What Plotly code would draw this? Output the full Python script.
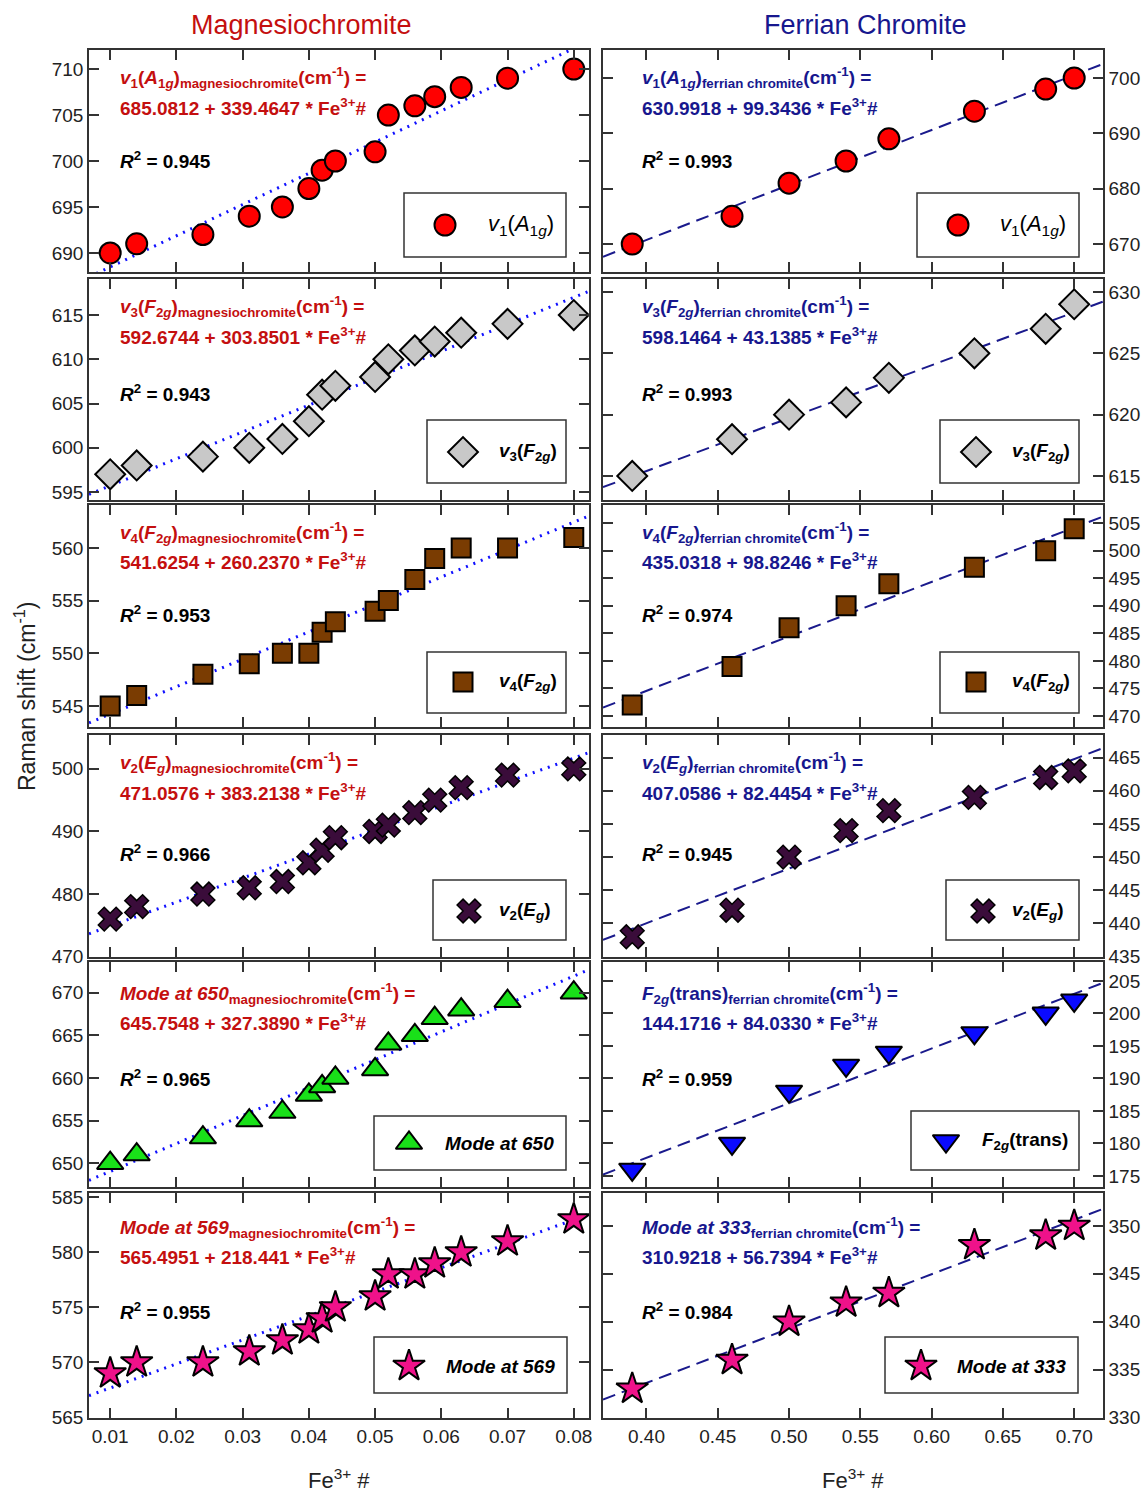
import plotly.graph_objects as go

# ---------------- data ----------------
fe_mc = [0.010, 0.014, 0.024, 0.031, 0.036, 0.040, 0.042, 0.044,
         0.050, 0.052, 0.056, 0.059, 0.063, 0.070, 0.080]
fe_fc = [0.39, 0.46, 0.50, 0.54, 0.57, 0.63, 0.68, 0.70]

v1_mc = [690, 691, 692, 694, 695, 697, 699, 700, 701, 705, 706, 707, 708, 709, 710]
v3_mc = [597, 598, 599, 600, 601, 603, 606, 607, 608, 610, 611, 612, 613, 614, 615]
v4_mc = [545, 546, 548, 549, 550, 550, 552, 553, 554, 555, 557, 559, 560, 560, 561]
v2_mc = [476, 478, 480, 481, 482, 485, 487, 489, 490, 491, 493, 495, 497, 499, 500]
m650_mc = [650, 651, 653, 655, 656, 658, 659, 660, 661, 664, 665, 667, 668, 669, 670]
m569_mc = [569, 570, 570, 571, 572, 573, 574, 575, 576, 578, 578, 579, 580, 581, 583]

v1_fc = [670, 675, 681, 685, 689, 694, 698, 700]
v3_fc = [615, 618, 620, 621, 623, 625, 627, 629]
v4_fc = [472, 479, 486, 490, 494, 497, 500, 504]
v2_fc = [438, 442, 450, 454, 457, 459, 462, 463]
f2g_fc = [176, 180, 188, 192, 194, 197, 200, 202]
m333_fc = [333, 336, 340, 342, 343, 348, 349, 350]

# linear fits: (intercept, slope, R^2)
fit_mc = [(685.0812, 339.4647, 0.945), (592.6744, 303.8501, 0.943),
          (541.6254, 260.2370, 0.953), (471.0576, 383.2138, 0.966),
          (645.7548, 327.3890, 0.965), (565.4951, 218.441, 0.955)]
fit_fc = [(630.9918, 99.3436, 0.993), (598.1464, 43.1385, 0.993),
          (435.0318, 98.8246, 0.974), (407.0586, 82.4454, 0.945),
          (144.1716, 84.0330, 0.959), (310.9218, 56.7394, 0.984)]

coef_txt_mc = ["685.0812 + 339.4647", "592.6744 + 303.8501", "541.6254 + 260.2370",
               "471.0576 + 383.2138", "645.7548 + 327.3890", "565.4951 + 218.441"]
coef_txt_fc = ["630.9918 + 99.3436", "598.1464 + 43.1385", "435.0318 + 98.8246",
               "407.0586 + 82.4454", "144.1716 + 84.0330", "310.9218 + 56.7394"]

mode_mc = ["<i>v</i><sub>1</sub>(<i>A</i><sub>1<i>g</i></sub>)",
           "<i>v</i><sub>3</sub>(<i>F</i><sub>2<i>g</i></sub>)",
           "<i>v</i><sub>4</sub>(<i>F</i><sub>2<i>g</i></sub>)",
           "<i>v</i><sub>2</sub>(<i>E</i><sub><i>g</i></sub>)",
           "<i>Mode at 650</i>",
           "<i>Mode at 569</i>"]
mode_fc = ["<i>v</i><sub>1</sub>(<i>A</i><sub>1<i>g</i></sub>)",
           "<i>v</i><sub>3</sub>(<i>F</i><sub>2<i>g</i></sub>)",
           "<i>v</i><sub>4</sub>(<i>F</i><sub>2<i>g</i></sub>)",
           "<i>v</i><sub>2</sub>(<i>E</i><sub><i>g</i></sub>)",
           "<i>F</i><sub>2<i>g</i></sub>(trans)",
           "<i>Mode at 333</i>"]

# ---------------- styling / layout constants ----------------
W, H = 1146, 1492
PL, PR, PT, PB = 89, 1103, 50, 1418          # plotting area in pixels
COLS = [(89, 589), (603, 1103)]
ROWS = [(50, 272), (279, 500), (505, 727), (735, 957), (962, 1187), (1193, 1418)]

XR = [(0.0068, 0.0823), (0.3695, 0.7202)]
YR = [[(687.93, 712.07), (664.94, 705.06)],
      [(594.10, 619.07), (613.04, 631.06)],
      [(543.00, 564.08), (468.00, 508.30)],
      [(469.95, 505.40), (434.95, 468.40)],
      [(647.20, 673.60), (173.30, 207.90)],
      [(564.95, 585.40), (329.95, 353.44)]]
YDT = [[5, 10], [5, 5], [5, 5], [10, 5], [5, 5], [5, 5]]

RED = "#c40f0f"
NAVY = "#17178e"
AX = "#333333"
FONT = "Arial, Liberation Sans, sans-serif"

MARKERS = [dict(symbol="circle", color="#ff0000", size=21),
           dict(symbol="diamond", color="#c8c8c8", size=23),
           dict(symbol="square", color="#7a3c02", size=19),
           dict(symbol="x", color="#3a0c3a", size=21),
           dict(symbol="triangle-up", color="#19e019", size=23),
           dict(symbol="triangle-down", color="#0a0aff", size=23),
           dict(symbol="star", color="#ef128a", size=24)]
MK_MC = [0, 1, 2, 3, 4, 6]
MK_FC = [0, 1, 2, 3, 5, 6]

# legend box (x0, y0, x1, y1), symbol centre, label start (pixels)
LEG = [[((404, 193, 566, 257), (445, 225), 486), ((917, 193, 1079, 257), (958, 225), 998)],
       [((427, 420, 566, 483), (463, 452), 497), ((940, 420, 1079, 483), (976, 452), 1010)],
       [((427, 652, 566, 713), (463, 682), 497), ((940, 652, 1079, 713), (976, 682), 1010)],
       [((433, 880, 566, 940), (469, 911), 497), ((946, 880, 1079, 940), (983, 911), 1010)],
       [((374, 1116, 566, 1170), (409, 1143), 443), ((911, 1111, 1079, 1170), (946, 1141), 980)],
       [((374, 1337, 567, 1393), (409, 1366), 444), ((885, 1337, 1078, 1393), (921, 1366), 955)]]

TXT_ROWS = [(77, 107, 160), (306, 336, 393), (532, 561, 614),
            (763, 792, 853), (993, 1022, 1078), (1227, 1256, 1311)]
TXT_X = [118, 640]


def px(x):
    return (x - PL) / (PR - PL)


def py(y):
    return (PB - y) / (PB - PT)


def to_data_x(c, xp):
    a, b = COLS[c]
    r0, r1 = XR[c]
    return r0 + (xp - a) / (b - a) * (r1 - r0)


def to_data_y(r, c, yp):
    top, bot = ROWS[r]
    r0, r1 = YR[r][c]
    return r0 + (bot - yp) / (bot - top) * (r1 - r0)


def note(xp, yp, text, size, color, xanchor="left", **kw):
    return dict(xref="paper", yref="paper", x=px(xp), y=py(yp), xanchor=xanchor,
                yanchor="middle", text=text, showarrow=False,
                font=dict(size=size, color=color, family=FONT), **kw)


fig = go.Figure()
layout = dict(width=W, height=H, margin=dict(l=PL, r=W - PR, t=PT, b=H - PB),
              paper_bgcolor="white", plot_bgcolor="white", showlegend=False,
              font=dict(family=FONT, size=19, color="#222222"))
annotations = []
shapes = []

for r in range(6):
    for c in range(2):
        k = r * 2 + c + 1
        xa = "x" if k == 1 else f"x{k}"
        ya = "y" if k == 1 else f"y{k}"
        xkey = "xaxis" if k == 1 else f"xaxis{k}"
        ykey = "yaxis" if k == 1 else f"yaxis{k}"
        top, bot = ROWS[r]
        a, b = COLS[c]
        layout[xkey] = dict(domain=[px(a), px(b)], anchor=ya, range=list(XR[c]),
                            dtick=0.01 if c == 0 else 0.05, tick0=0, tickformat=".2f",
                            ticks="inside", ticklen=10, tickwidth=1.5, tickcolor=AX,
                            showline=True, linewidth=1.5, linecolor=AX, mirror="ticks",
                            showgrid=False, zeroline=False, showticklabels=(r == 5),
                            automargin=False, tickfont=dict(size=19, color="#222222"))
        layout[ykey] = dict(domain=[py(bot), py(top)], anchor=xa, range=list(YR[r][c]),
                            dtick=YDT[r][c], tick0=0, side="left" if c == 0 else "right",
                            ticks="inside", ticklen=10, tickwidth=1.5, tickcolor=AX,
                            showline=True, linewidth=1.5, linecolor=AX, mirror="ticks",
                            showgrid=False, zeroline=False, automargin=False,
                            tickfont=dict(size=19, color="#222222"))

        xs = fe_mc if c == 0 else fe_fc
        ys = [v1_mc, v3_mc, v4_mc, v2_mc, m650_mc, m569_mc][r] if c == 0 else \
             [v1_fc, v3_fc, v4_fc, v2_fc, f2g_fc, m333_fc][r]
        icpt, slope, r2 = (fit_mc if c == 0 else fit_fc)[r]
        mk = MARKERS[(MK_MC if c == 0 else MK_FC)[r]]
        mstyle = dict(symbol=mk["symbol"], color=mk["color"], size=mk["size"],
                      line=dict(color="black", width=2 if mk["symbol"] != "x" else 1.5))

        # fitted line across the full axis range
        lx = list(XR[c])
        fig.add_trace(go.Scatter(
            x=lx, y=[icpt + slope * v for v in lx], mode="lines", xaxis=xa, yaxis=ya,
            line=dict(color="#1010ff", width=3, dash="2px,6px") if c == 0 else
                 dict(color="#1a1a8c", width=2, dash="13px,7px"),
            hoverinfo="skip"))
        # measured points
        fig.add_trace(go.Scatter(x=xs, y=ys, mode="markers", xaxis=xa, yaxis=ya,
                                 marker=mstyle, cliponaxis=False))

        # key box
        (bx0, by0, bx1, by1), (mx, my), lx0 = LEG[r][c]
        shapes.append(dict(type="rect", xref="paper", yref="paper",
                           x0=px(bx0), x1=px(bx1), y0=py(by1), y1=py(by0),
                           line=dict(color=AX, width=1.5), fillcolor="white", layer="below"))
        fig.add_trace(go.Scatter(x=[to_data_x(c, mx)], y=[to_data_y(r, c, my)],
                                 mode="markers", xaxis=xa, yaxis=ya, marker=mstyle,
                                 hoverinfo="skip"))
        label = (mode_mc if c == 0 else mode_fc)[r]
        if r == 0:
            annotations.append(note(lx0, my, label, 22, "black"))
        else:
            annotations.append(note(lx0, my, f"<b>{label}</b>", 19, "black"))

        # regression equation and R^2
        phase = "magnesiochromite" if c == 0 else "ferrian chromite"
        col = RED if c == 0 else NAVY
        y1, y2, y3 = TXT_ROWS[r]
        coef = (coef_txt_mc if c == 0 else coef_txt_fc)[r]
        annotations.append(note(TXT_X[c], y1,
                                f"<b>{label}<sub>{phase}</sub>(cm<sup>-1</sup>) =</b>", 19, col))
        annotations.append(note(TXT_X[c], y2, f"<b>{coef} * Fe<sup>3+</sup>#</b>", 19, col))
        annotations.append(note(TXT_X[c], y3, f"<b><i>R</i><sup>2</sup> = {r2:.3f}</b>",
                                19, "black"))

# column headings and axis titles
annotations += [
    note(301, 25, "Magnesiochromite", 27, RED, xanchor="center"),
    note(865, 25, "Ferrian Chromite", 27, NAVY, xanchor="center"),
    note(339, 1479, "Fe<sup>3+</sup> #", 22, "#222222", xanchor="center"),
    note(853, 1479, "Fe<sup>3+</sup> #", 22, "#222222", xanchor="center"),
    note(25, 697, "Raman shift (cm<sup>-1</sup>)", 23, "#222222", xanchor="center",
         textangle=-90),
]

layout["annotations"] = annotations
layout["shapes"] = shapes
fig.update_layout(**layout)
fig.write_html("out.html")
